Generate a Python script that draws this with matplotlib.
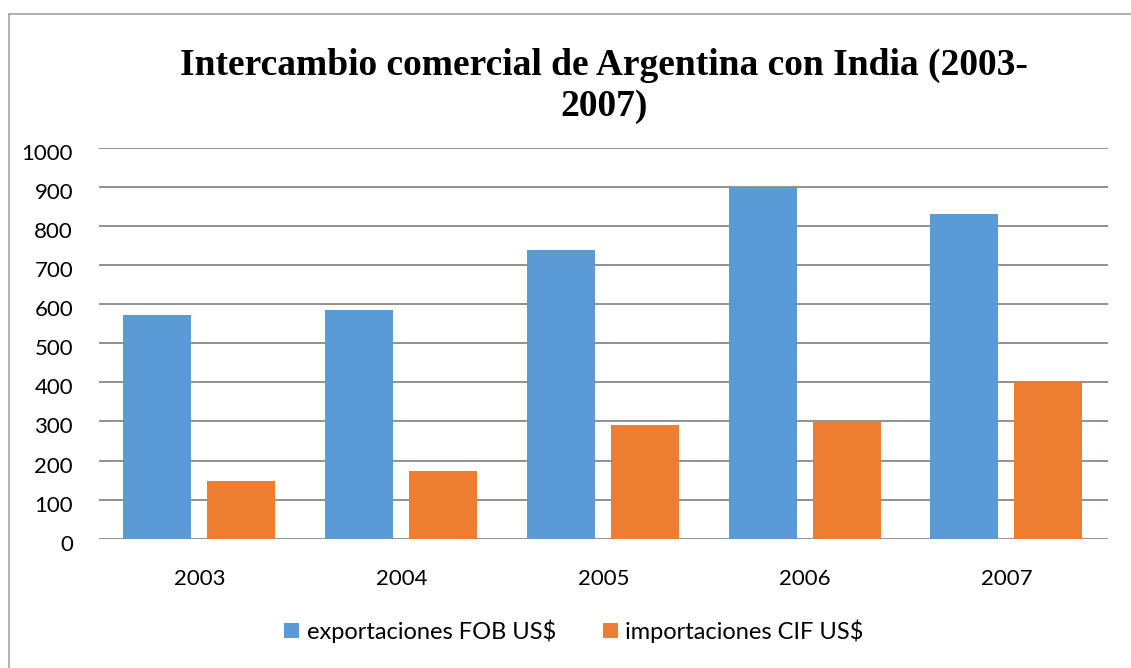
import matplotlib
matplotlib.use("Agg")
import matplotlib.pyplot as plt
from matplotlib.lines import Line2D
from matplotlib.patches import Patch
from matplotlib.transforms import ScaledTranslation
import numpy as np

years = ["2003", "2004", "2005", "2006", "2007"]
exportaciones = [572, 585, 740, 900, 830]
importaciones = [148, 172, 290, 300, 400]
yticks = [0, 100, 200, 300, 400, 500, 600, 700, 800, 900, 1000]
title = "Intercambio comercial de Argentina con India (2003-\n2007)"
series_names = ["exportaciones FOB US$", "importaciones CIF US$"]
colors = ["#5B9BD5", "#ED7D31"]

W, H = 1131, 668
fig = plt.figure(figsize=(W / 100, H / 100), dpi=100)
ax = fig.add_axes([99 / W, 1 - 538.7 / H, (1108 - 99) / W, (538.7 - 148) / H])

x = np.arange(len(years))
bw = 0.337
ax.bar(x - 0.212, exportaciones, width=bw, color=colors[0], zorder=2)
ax.bar(x + 0.205, importaciones, width=bw, color=colors[1], zorder=2)

ax.set_xlim(-0.5, len(years) - 0.5)
ax.set_ylim(0, 1000)
ax.set_yticks(yticks)
ax.set_xticks(x)
ax.set_xticklabels(years)
ax.yaxis.grid(True, color="#888888", linewidth=1.3, zorder=1)
ax.set_axisbelow(True)
for s in ax.spines.values():
    s.set_visible(False)
ax.tick_params(axis="both", length=0, labelsize=16, labelcolor="#000000")
ax.tick_params(axis="y", pad=18.7)
ax.tick_params(axis="x", pad=22)
for lab in ax.get_xticklabels() + ax.get_yticklabels():
    lab.set_fontfamily("Lato")
shift = ScaledTranslation(0, -4 / 100, fig.dpi_scale_trans)
for t in ax.yaxis.get_major_ticks():
    t.label1.set_transform(t.label1.get_transform() + shift)

fig.text(604 / W, 1 - 86 / H, title, ha="center", va="center",
         fontfamily="Liberation Serif", fontweight="bold", fontsize=27,
         linespacing=1.25)

handles = [Patch(facecolor=c, edgecolor="none") for c in colors]
fig.legend(handles, series_names, loc="center", bbox_to_anchor=(574 / W, 1 - 631 / H),
           ncol=2, frameon=False, handlelength=0.64, handleheight=0.64,
           handletextpad=0.3, columnspacing=2.0,
           prop={"family": "Lato", "size": 17})

# chart area border (top and left visible)
fig.add_artist(Line2D([9 / W, 9 / W], [0, 1 - 14 / H], transform=fig.transFigure,
                      color="#a6a6a6", linewidth=1.2))
fig.add_artist(Line2D([9 / W, 1], [1 - 14 / H, 1 - 14 / H], transform=fig.transFigure,
                      color="#a6a6a6", linewidth=1.2))

fig.savefig("out.png", dpi=100, facecolor="white")
